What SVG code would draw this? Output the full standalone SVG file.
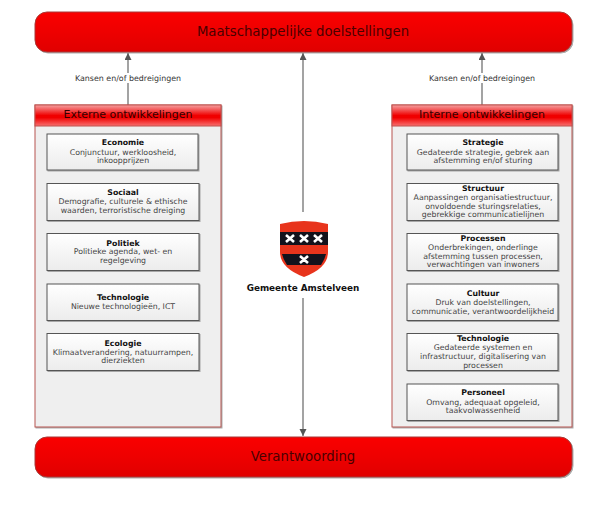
<svg xmlns="http://www.w3.org/2000/svg" width="600" height="521" viewBox="0 0 600 521">
<style>
text{font-family:"DejaVu Sans",Verdana,sans-serif;text-anchor:middle}
.bar{fill:url(#barG);stroke:#a83a36;stroke-width:1;filter:url(#sh)}
.bt{font-size:13.25px;fill:#4a0000}
.con{fill:#efefef;stroke:#b85450;stroke-width:1;filter:url(#sh)}
.hd{fill:url(#hdG);stroke:#c0504c;stroke-width:1}
.ht{font-size:11px;fill:#300}
.box{fill:url(#boxG);stroke:#555;stroke-width:1;filter:url(#sh)}
.t{font-size:7.8px;font-weight:bold;fill:#111}
.d{font-size:7.8px;fill:#444}
.l{fill:none;stroke:#666;stroke-width:1.200}
.lab{font-size:7.900px;fill:#333}
</style>
<defs>
<linearGradient id="barG" x1="0" y1="0" x2="0" y2="1"><stop offset="0" stop-color="#fa0000"/><stop offset=".5" stop-color="#ee0000"/><stop offset="1" stop-color="#e00000"/></linearGradient>
<linearGradient id="hdG" x1="0" y1="0" x2="0" y2="1"><stop offset="0" stop-color="#f5a0a0"/><stop offset=".5" stop-color="#f00000"/><stop offset=".6" stop-color="#f00000"/><stop offset="1" stop-color="#f87070"/></linearGradient>
<linearGradient id="boxG" x1="0" y1="0" x2="0" y2="1"><stop offset="0" stop-color="#ffffff"/><stop offset="1" stop-color="#ececec"/></linearGradient>
<filter id="sh" x="-5%" y="-5%" width="110%" height="115%"><feDropShadow dx="1" dy="1" stdDeviation=".6" flood-color="#888" flood-opacity=".7"/></filter>
<marker id="a" markerWidth="8" markerHeight="8" refX="7" refY="3.500" orient="auto" markerUnits="userSpaceOnUse"><path d="M0 0L7 3.500L0 7z" fill="#555"/></marker>
</defs>
<g id="connectors">
<path class="l" d="M128 105V53" marker-end="url(#a)"/>
<path class="l" d="M482 105V53" marker-end="url(#a)"/>
<path class="l" d="M303 212V53" marker-end="url(#a)"/>
<path class="l" d="M303 298V436" marker-end="url(#a)"/>
<rect x="74" y="73" width="108" height="10" fill="#fff"/>
<text class="lab" x="128" y="81">Kansen en/of bedreigingen</text>
<rect x="428" y="73" width="108" height="10" fill="#fff"/>
<text class="lab" x="482" y="81">Kansen en/of bedreigingen</text>
</g>
<g id="top"><rect class="bar" x="35" y="12" width="537" height="40" rx="12"/><text class="bt" x="303" y="36">Maatschappelijke doelstellingen</text></g>
<g id="bottom"><rect class="bar" x="35" y="437" width="537" height="40" rx="12"/><text class="bt" x="303" y="461">Verantwoording</text></g>
<g id="externe"><rect class="con" x="35" y="105" width="186" height="322"/><rect class="hd" x="35" y="105" width="186" height="21"/><text class="ht" x="128" y="118">Externe ontwikkelingen</text></g>
<g id="interne"><rect class="con" x="392" y="105" width="180" height="322"/><rect class="hd" x="392" y="105" width="180" height="21"/><text class="ht" x="482" y="118">Interne ontwikkelingen</text></g>
<g id="economie"><rect class="box" x="47" y="134" width="151" height="36"/><text class="t" x="123" y="145">Economie</text><text class="d" x="123" y="154.500">Conjunctuur, werkloosheid,</text><text class="d" x="123" y="163">inkoopprijzen</text></g>
<g id="sociaal"><rect class="box" x="47" y="183.500" width="152" height="37"/><text class="t" x="123" y="195">Sociaal</text><text class="d" x="123" y="204">Demografie, culturele &amp; ethische</text><text class="d" x="123" y="212.500">waarden, terroristische dreiging</text></g>
<g id="politiek"><rect class="box" x="47" y="233.500" width="152" height="37"/><text class="t" x="123" y="246">Politiek</text><text class="d" x="123" y="254">Politieke agenda, wet- en</text><text class="d" x="123" y="263">regelgeving</text></g>
<g id="technologie-ext"><rect class="box" x="47" y="284" width="152" height="36.500"/><text class="t" x="123" y="300">Technologie</text><text class="d" x="123" y="309">Nieuwe technologieën, ICT</text></g>
<g id="ecologie"><rect class="box" x="47" y="333.500" width="152" height="37"/><text class="t" x="123" y="346">Ecologie</text><text class="d" x="123" y="354.500">Klimaatverandering, natuurrampen,</text><text class="d" x="123" y="363">dierziekten</text></g>
<g id="strategie"><rect class="box" x="407" y="134" width="151" height="36"/><text class="t" x="483" y="145">Strategie</text><text class="d" x="483" y="154.500">Gedateerde strategie, gebrek aan</text><text class="d" x="483" y="163">afstemming en/of sturing</text></g>
<g id="structuur"><rect class="box" x="407" y="183.500" width="151" height="37"/><text class="t" x="483" y="191">Structuur</text><text class="d" x="483" y="200">Aanpassingen organisatiestructuur,</text><text class="d" x="483" y="208.500">onvoldoende sturingsrelaties,</text><text class="d" x="483" y="217">gebrekkige communicatielijnen</text></g>
<g id="processen"><rect class="box" x="407" y="233.500" width="151" height="37"/><text class="t" x="483" y="241">Processen</text><text class="d" x="483" y="250">Onderbrekingen, onderlinge</text><text class="d" x="483" y="258.500">afstemming tussen processen,</text><text class="d" x="483" y="267">verwachtingen van inwoners</text></g>
<g id="cultuur"><rect class="box" x="407" y="284" width="151" height="36.500"/><text class="t" x="483" y="295.500">Cultuur</text><text class="d" x="483" y="304.500">Druk van doelstellingen,</text><text class="d" x="483" y="313.500">communicatie, verantwoordelijkheid</text></g>
<g id="technologie-int"><rect class="box" x="407" y="333.500" width="151" height="37"/><text class="t" x="483" y="341">Technologie</text><text class="d" x="483" y="350">Gedateerde systemen en</text><text class="d" x="483" y="359">infrastructuur, digitalisering van</text><text class="d" x="483" y="367.500">processen</text></g>
<g id="personeel"><rect class="box" x="407" y="384" width="151" height="36.500"/><text class="t" x="483" y="395">Personeel</text><text class="d" x="483" y="404.500">Omvang, adequaat opgeleid,</text><text class="d" x="483" y="413">taakvolwassenheid</text></g>
<g id="logo">
<path d="M280 224Q304 218 328 224V252Q328 268 304 277Q280 268 280 252z" fill="#e8341c"/>
<path d="M280 232H328V245H280z" fill="#12121c"/>
<path d="M282 254H326Q325 259 321 265H287Q283 259 282 254z" fill="#12121c"/>
<g stroke="#fff" stroke-width="2.600"><path d="M286 235L294 242M294 235L286 242M300 235L308 242M308 235L300 242M314 235L322 242M322 235L314 242M300 256L308 263M308 256L300 263"/></g>
<text x="303" y="291" style="font-size:8.850px;font-weight:bold;fill:#111">Gemeente Amstelveen</text>
</g>
</svg>
